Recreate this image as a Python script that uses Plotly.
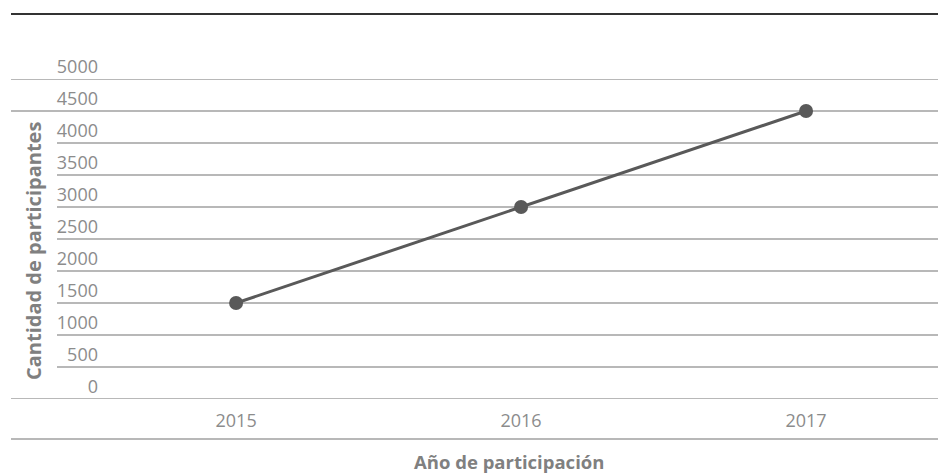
import plotly.graph_objects as go

years = ["2015", "2016", "2017"]
participants = [1500, 3000, 4500]
y_ticks = [0, 500, 1000, 1500, 2000, 2500, 3000, 3500, 4000, 4500, 5000]
x_title = "Año de participación"
y_title = "Cantidad de participantes"

W, H = 938, 473
L, R, T, B = 103, 0, 79, 74
pw, ph = W - L - R, H - T - B

def px_x(p):
    return (p - L) / pw

def px_y(p):
    return (H - B - p) / ph

FONT = "Open Sans"
TICK_COLOR = "#8c8c8c"
TITLE_COLOR = "#808080"
GRID = "#a0a0a0"

fig = go.Figure()
fig.add_trace(go.Scatter(
    x=years, y=participants, mode="lines+markers",
    line=dict(color="#595959", width=3),
    marker=dict(color="#595959", size=14),
    showlegend=False, hoverinfo="skip",
))

shapes = []
for v in y_ticks:
    start = px_x(11) if v in (0, 4500, 5000) else px_x(57)
    shapes.append(dict(type="line", xref="paper", yref="y", x0=start, x1=1,
                       y0=v, y1=v, line=dict(color=GRID, width=1.5), layer="below"))
shapes.append(dict(type="line", xref="paper", yref="paper", x0=px_x(11), x1=1,
                   y0=px_y(14), y1=px_y(14), line=dict(color="#333333", width=2)))
shapes.append(dict(type="line", xref="paper", yref="paper", x0=px_x(11), x1=1,
                   y0=px_y(439), y1=px_y(439), line=dict(color=GRID, width=1.5)))

annotations = [
    dict(text=f"<b>{x_title}</b>", xref="paper", yref="paper",
         x=px_x(509), y=px_y(461), showarrow=False,
         font=dict(family=FONT, size=18.5, color=TITLE_COLOR),
         xanchor="center", yanchor="middle"),
    dict(text=f"<b>{y_title}</b>", xref="paper", yref="paper",
         x=px_x(33), y=px_y(251), showarrow=False, textangle=-90,
         font=dict(family=FONT, size=20, color=TITLE_COLOR),
         xanchor="center", yanchor="middle"),
]

fig.update_layout(
    width=W, height=H,
    margin=dict(l=L, r=R, t=T, b=B, pad=0),
    paper_bgcolor="white", plot_bgcolor="white",
    font=dict(family=FONT, size=18, color=TICK_COLOR),
    shapes=shapes, annotations=annotations,
    xaxis=dict(type="category", range=[-0.467, 2.463], showgrid=False,
               zeroline=False, showline=False, ticks="",
               tickfont=dict(family=FONT, size=18, color=TICK_COLOR),
               ticklabelstandoff=9),
    yaxis=dict(range=[0, 5000], tickvals=y_ticks, showgrid=False,
               zeroline=False, showline=False, ticks="", ticklabelshift=-12,
               ticklabelstandoff=4,
               tickfont=dict(family=FONT, size=18, color=TICK_COLOR)),
)

fig.write_html("out.html", config={"displayModeBar": False},
               post_script="document.body.style.margin='0';document.body.style.overflow='hidden';")
